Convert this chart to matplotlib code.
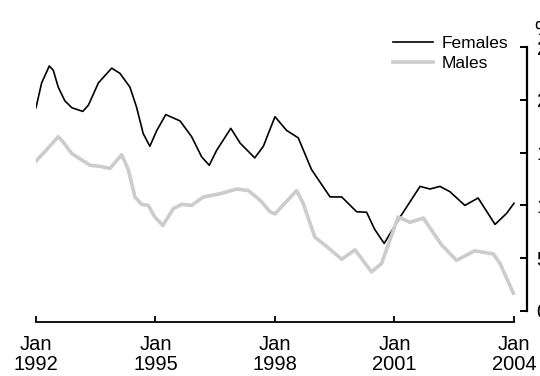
import matplotlib.pyplot as plt

# months since Jan 1992 and values (%)
fem_months = [0, 1.7, 4, 5.2, 6.7, 8.7, 10.8, 14.1, 15.8, 18.8, 22.8, 25.3, 28.3, 30.3,
              32.3, 34.3, 36.4, 39.1, 43.4, 46.9, 49.9, 52.2, 54.4, 58.7, 61.5, 65.9,
              68.5, 72, 75.5, 79, 83, 88.6, 92.1, 96.6, 99.6, 102.1, 104.9, 109.7,
              115.7, 118.7, 121.7, 124.7, 129.2, 133.2, 138.3, 141.8, 144]
fem_values = [19.25, 21.6, 23.2, 22.8, 21.2, 19.9, 19.25, 18.9, 19.5, 21.6, 23.0, 22.5,
              21.2, 19.3, 16.8, 15.6, 17.1, 18.6, 18.0, 16.5, 14.6, 13.8, 15.2, 17.3,
              15.9, 14.5, 15.6, 18.4, 17.1, 16.4, 13.4, 10.8, 10.8, 9.4, 9.35, 7.7, 6.4,
              8.9, 11.8, 11.55, 11.8, 11.3, 10.0, 10.7, 8.2, 9.25, 10.2]

male_months = [0, 2.7, 6.7, 8.2, 10.8, 16.3, 19.3, 22.3, 25.8, 27.8, 29.8, 31.8, 33.8,
               35.8, 38.2, 41.4, 43.9, 46.9, 50.4, 55.4, 60.5, 64, 67.5, 70.5, 72, 78.5,
               80.5, 84, 87.6, 92.1, 96.1, 101.1, 104.1, 109.1, 112.7, 116.7, 122.2,
               126.7, 132.2, 137.8, 139.8, 143.8]
male_values = [14.2, 15.1, 16.5, 16.0, 14.9, 13.8, 13.7, 13.5, 14.8, 13.4, 10.8, 10.1,
               10.0, 8.9, 8.1, 9.7, 10.1, 10.0, 10.8, 11.1, 11.55, 11.4, 10.5, 9.4, 9.2,
               11.4, 10.2, 7.0, 6.1, 4.9, 5.8, 3.7, 4.5, 8.9, 8.4, 8.8, 6.25, 4.8, 5.7,
               5.4, 4.5, 1.7]

x_ticks = [1992, 1995, 1998, 2001, 2004]
x_labels = ['Jan\n1992', 'Jan\n1995', 'Jan\n1998', 'Jan\n2001', 'Jan\n2004']
y_ticks = [0, 5, 10, 15, 20, 25]

plt.rcParams['font.family'] = ['Liberation Sans', 'DejaVu Sans']

fig = plt.figure(figsize=(5.4, 3.76), dpi=100)
ax = fig.add_axes([36 / 540, 1 - 322 / 376, 491 / 540, 275 / 376])

fem_x = [1992 + m / 12 for m in fem_months]
male_x = [1992 + m / 12 for m in male_months]
ax.plot(fem_x, fem_values, color='black', linewidth=1.2, label='Females')
ax.plot(male_x, male_values, color='#cccccc', linewidth=2.6, label='Males')

ax.set_xlim(1992, 1992 + 491 / 39.83)
ax.set_ylim((311 - 322) * 5 / 52.8, 25)

# ABS style: separate x axis below, y axis on the right
ax.spines['top'].set_visible(False)
ax.spines['left'].set_visible(False)
ax.spines['bottom'].set_bounds(1992, 2004)
ax.spines['bottom'].set_linewidth(1.3)
ax.spines['right'].set_bounds(0, 25)
ax.spines['right'].set_linewidth(1.6)
ax.spines['right'].set_edgecolor('#000000')
ax.spines['right'].set_zorder(10)
ax.spines['right'].set_clip_on(False)

ax.set_xticks(x_ticks)
ax.set_xticklabels(x_labels, fontsize=14.5, linespacing=1.1)
ax.tick_params(axis='x', direction='in', length=4.5, width=1.3, pad=9)

ax.yaxis.set_ticks_position('right')
ax.set_yticks(y_ticks)
ax.set_yticklabels([str(v) for v in y_ticks], fontsize=14.5)
ax.tick_params(axis='y', direction='in', length=5, width=1.4, pad=7, color='#000000')
ax.text(1.015, 1.065, '%', transform=ax.transAxes, fontsize=14.5, va='center')

fig.legend(loc='upper right', bbox_to_anchor=(515 / 540, 1 - 29 / 376), frameon=False,
           fontsize=12.5, handlelength=2.3, handletextpad=0.5, labelspacing=0.25,
           borderaxespad=0)

fig.savefig('out.png', dpi=100)
